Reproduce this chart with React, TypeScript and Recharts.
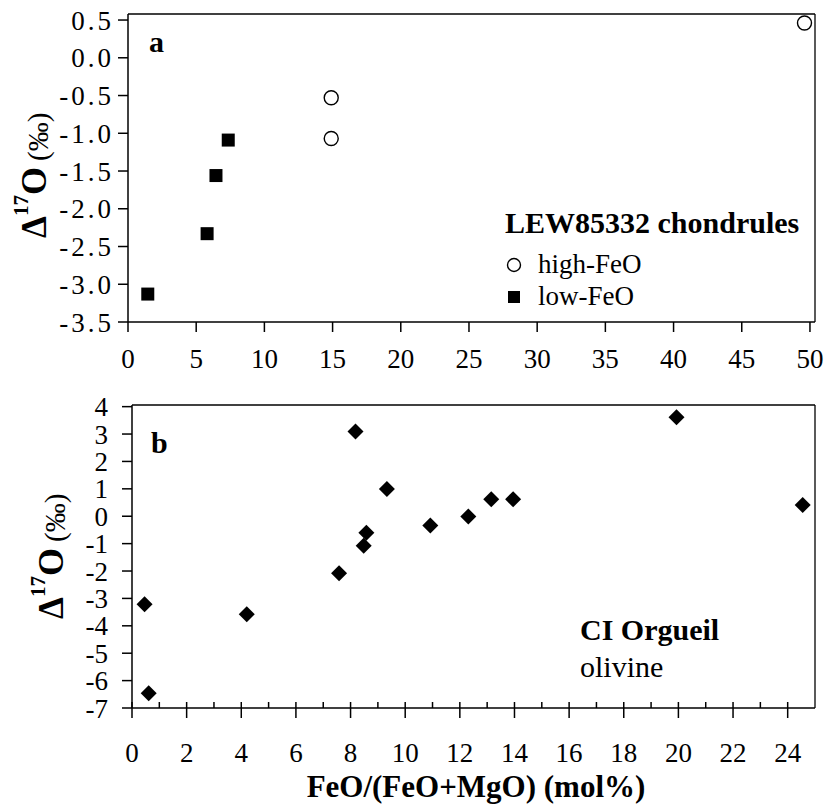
import { ScatterChart, Scatter, XAxis, YAxis, ReferenceLine } from "recharts"

// ---- panel a: LEW85332 chondrules ----
const lowFeoX = [1.45, 5.8, 6.45, 7.35]
const lowFeoY = [-3.13, -2.33, -1.56, -1.09]
const highFeoX = [14.9, 14.9, 49.6]
const highFeoY = [-0.53, -1.07, 0.46]
const aTicksX = [0, 5, 10, 15, 20, 25, 30, 35, 40, 45, 50]
const aTicksY = [-3.5, -3.0, -2.5, -2.0, -1.5, -1.0, -0.5, 0.0, 0.5]

// ---- panel b: CI Orgueil olivine ----
const ciX = [0.46, 0.61, 4.2, 7.58, 8.18, 8.48, 8.58, 9.33, 10.92, 12.31, 13.15, 13.95, 19.93, 24.55]
const ciY = [-3.21, -6.46, -3.58, -2.08, 3.09, -1.08, -0.6, 0.99, -0.34, -0.01, 0.62, 0.62, 3.61, 0.41]
const bTicksX = Array.from({ length: 25 }, (_, i) => i)
const bTicksY = [-7, -6, -5, -4, -3, -2, -1, 0, 1, 2, 3, 4]

const A_X_MAX = 50.37
const A_Y_MAX = 0.58
const B_X_MAX = 25
const B_Y_MAX = 4.06

const FONT = "Liberation Serif, DejaVu Serif, serif"
const lowFeo = lowFeoX.map((x, i) => ({ x, y: lowFeoY[i] }))
const highFeo = highFeoX.map((x, i) => ({ x, y: highFeoY[i] }))
const ci = ciX.map((x, i) => ({ x, y: ciY[i] }))

const tickStyle = { fill: "#000", fontSize: 27, style: { fontFamily: FONT } }
const axisLine = { stroke: "#000", strokeWidth: 1.5 }

const Square = (p: any) => (
  <rect x={p.cx - 6.5} y={p.cy - 6.5} width={13} height={13} fill="#000" />
)
const OpenCircle = (p: any) => (
  <circle cx={p.cx} cy={p.cy} r={7} fill="#fff" stroke="#000" strokeWidth={1.4} />
)
const Diamond = (p: any) => (
  <polygon
    points={`${p.cx},${p.cy - 8} ${p.cx + 8},${p.cy} ${p.cx},${p.cy + 8} ${p.cx - 8},${p.cy}`}
    fill="#000"
  />
)

// b x-axis: majors (even) cross the axis, minors (odd) point up only
const B_TICK_SIZE = 10
const B_TICK_MARGIN = 25
const BXTick = (props: any) => {
  const { x, y, payload } = props
  const axisY = y - B_TICK_MARGIN - B_TICK_SIZE
  const major = payload.value % 2 === 0
  return (
    <g>
      <line x1={x} x2={x} y1={axisY - 6} y2={major ? axisY + B_TICK_SIZE : axisY} stroke="#000" strokeWidth={1.5} />
      {major && (
        <text x={x} y={y} dy="0.71em" textAnchor="middle" fill="#000" fontSize={27} style={{ fontFamily: FONT }}>
          {payload.value}
        </text>
      )}
    </g>
  )
}

// rotated title, starting from its bottom end
function YTitle({ x, y }: { x: number; y: number }) {
  return (
    <text transform={`translate(${x},${y}) rotate(-90)`} textAnchor="start" style={{ fontFamily: FONT }} fill="#000">
      <tspan fontWeight="bold" fontSize={35}>Δ</tspan>
      <tspan fontWeight="bold" fontSize={21} dy={-18}>17</tspan>
      <tspan fontWeight="bold" fontSize={36} dy={18}>O</tspan>
      <tspan fontSize={29} dx={6} dy={2}>(‰)</tspan>
    </text>
  )
}

export default function App() {
  return (
    <div style={{ position: "absolute", left: 0, top: 0, width: 825, height: 804, background: "#fff", fontFamily: FONT }}>
      <div style={{ position: "absolute", left: 0, top: 0 }}>
        <ScatterChart width={825} height={390} margin={{ top: 14, right: 10, bottom: 0, left: 10 }}>
          <XAxis
            type="number"
            dataKey="x"
            domain={[0, A_X_MAX]}
            ticks={aTicksX}
            interval={0}
            height={68}
            tick={tickStyle}
            tickSize={10}
            tickMargin={17}
            axisLine={axisLine}
            tickLine={axisLine}
          />
          <YAxis
            type="number"
            dataKey="y"
            domain={[-3.5, A_Y_MAX]}
            ticks={aTicksY}
            interval={0}
            width={118}
            tick={{ ...tickStyle, letterSpacing: 3 }}
            tickFormatter={(v: number) => v.toFixed(1)}
            tickSize={10}
            tickMargin={4}
            axisLine={axisLine}
            tickLine={axisLine}
          />
          <ReferenceLine y={A_Y_MAX} stroke="#000" strokeWidth={1.3} />
          <ReferenceLine x={A_X_MAX} stroke="#000" strokeWidth={1.3} />
          <Scatter data={lowFeo} shape={Square} isAnimationActive={false} />
          <Scatter data={highFeo} shape={OpenCircle} isAnimationActive={false} />
        </ScatterChart>
      </div>
      <div style={{ position: "absolute", left: 0, top: 390 }}>
        <ScatterChart width={825} height={414} margin={{ top: 15, right: 10, bottom: 0, left: 10 }}>
          <XAxis
            type="number"
            dataKey="x"
            domain={[0, B_X_MAX]}
            ticks={bTicksX}
            interval={0}
            height={96}
            tick={BXTick}
            tickSize={B_TICK_SIZE}
            tickMargin={B_TICK_MARGIN}
            axisLine={axisLine}
            tickLine={false}
          />
          <YAxis
            type="number"
            dataKey="y"
            domain={[-7, B_Y_MAX]}
            ticks={bTicksY}
            interval={0}
            width={122}
            tick={tickStyle}
            tickSize={10}
            tickMargin={14}
            axisLine={axisLine}
            tickLine={axisLine}
          />
          <ReferenceLine y={B_Y_MAX} stroke="#000" strokeWidth={1.3} />
          <ReferenceLine x={B_X_MAX} stroke="#000" strokeWidth={1.3} />
          <Scatter data={ci} shape={Diamond} isAnimationActive={false} />
        </ScatterChart>
      </div>

      {/* titles, panel letters and legend text */}
      <svg width={825} height={804} style={{ position: "absolute", left: 0, top: 0, pointerEvents: "none", fontFamily: FONT }}>
        <g fill="#000">
          <text x={149} y={52} fontSize={30} fontWeight="bold">a</text>
          <text x={151} y={453} fontSize={30} fontWeight="bold">b</text>

          <text x={505} y={233} fontSize={30} fontWeight="bold">LEW85332 chondrules</text>
          <circle cx={514} cy={265} r={6.5} fill="#fff" stroke="#000" strokeWidth={1.4} />
          <text x={538} y={273} fontSize={27}>high-FeO</text>
          <rect x={508} y={291} width={12} height={12} fill="#000" />
          <text x={538} y={305} fontSize={27}>low-FeO</text>

          <text x={580} y={640} fontSize={30} fontWeight="bold">CI Orgueil</text>
          <text x={580} y={677} fontSize={30}>olivine</text>

          <text x={476} y={797} fontSize={31} fontWeight="bold" textAnchor="middle">FeO/(FeO+MgO) (mol%)</text>
        </g>
        <YTitle x={46} y={238} />
        <YTitle x={63} y={619} />
      </svg>
    </div>
  )
}
